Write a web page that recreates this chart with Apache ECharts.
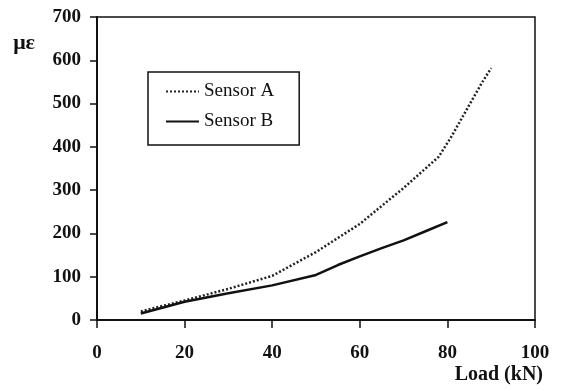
<!DOCTYPE html>
<html>
<head>
<meta charset="utf-8">
<script src="https://cdn.jsdelivr.net/npm/echarts@6/dist/echarts.min.js"></script>
<style>
  html, body { margin: 0; padding: 0; background: #fff; }
  #chart { width: 563px; height: 391px; }
</style>
</head>
<body>
<div id="chart"></div>
<script>
// Sensor A (dotted) and Sensor B (solid)
const loadA = [10, 20, 30, 40, 50, 60, 70, 75, 78, 81, 85, 88, 90]
const strainA = [20, 45, 72, 102, 157, 222, 305, 350, 377, 425, 497, 550, 582]
const loadB = [10, 20, 30, 40, 50, 55, 60, 65, 70, 75, 80]
const strainB = [15, 42, 62, 80, 104, 127, 147, 166, 184, 205, 226]

const xTicks = [0, 20, 40, 60, 80, 100]
const yTicks = [0, 100, 200, 300, 400, 500, 600, 700]

const font = '"Liberation Serif", "Times New Roman", serif'
const ink = '#111'

const chart = echarts.init(document.getElementById('chart'))

chart.setOption({
  animation: false,
  backgroundColor: '#fff',
  grid: {
    left: 97,
    right: 28,
    top: 17,
    bottom: 71,
    show: true,
    borderColor: ink,
    borderWidth: 1.5
  },
  legend: {
    orient: 'vertical',
    left: 148,
    top: 72,
    padding: [10, 25, 14, 17],
    itemGap: 11,
    itemWidth: 33,
    itemHeight: 14,
    itemStyle: { opacity: 0 },
    borderColor: ink,
    borderWidth: 1.5,
    textStyle: { fontFamily: font, fontSize: 19, color: ink },
    data: ['Sensor A', 'Sensor B']
  },
  xAxis: {
    type: 'value',
    min: xTicks[0],
    max: xTicks[xTicks.length - 1],
    interval: 20,
    name: 'Load (kN)',
    nameLocation: 'end',
    nameGap: 8,
    nameTextStyle: {
      fontFamily: font, fontSize: 20, fontWeight: 'bold', color: ink,
      align: 'right', verticalAlign: 'top', padding: [45, 0, 0, 0]
    },
    axisLine: { lineStyle: { color: ink, width: 2 } },
    axisTick: { length: 8, lineStyle: { color: ink, width: 1.5 } },
    axisLabel: { margin: 24, fontFamily: font, fontSize: 19, fontWeight: 'bold', color: ink },
    splitLine: { show: false }
  },
  yAxis: {
    type: 'value',
    min: yTicks[0],
    max: yTicks[yTicks.length - 1],
    interval: 100,
    name: 'με',
    nameLocation: 'end',
    nameGap: -26,
    nameTextStyle: {
      fontFamily: font, fontSize: 22, fontWeight: 'bold', color: ink,
      align: 'right', verticalAlign: 'middle', padding: [0, 62, 0, 0]
    },
    axisLine: { show: true, lineStyle: { color: ink, width: 2 } },
    axisTick: { show: true, length: 7, lineStyle: { color: ink, width: 1.5 } },
    axisLabel: { margin: 16, fontFamily: font, fontSize: 19, fontWeight: 'bold', color: ink },
    splitLine: { show: false }
  },
  series: [
    {
      name: 'Sensor A',
      type: 'line',
      symbol: 'none',
      data: loadA.map((x, i) => [x, strainA[i]]),
      lineStyle: { color: '#222', width: 2.5, type: [2, 2] },
      itemStyle: { color: '#222' }
    },
    {
      name: 'Sensor B',
      type: 'line',
      symbol: 'none',
      data: loadB.map((x, i) => [x, strainB[i]]),
      lineStyle: { color: ink, width: 2.5 },
      itemStyle: { color: ink }
    }
  ]
})
</script>
</body>
</html>
